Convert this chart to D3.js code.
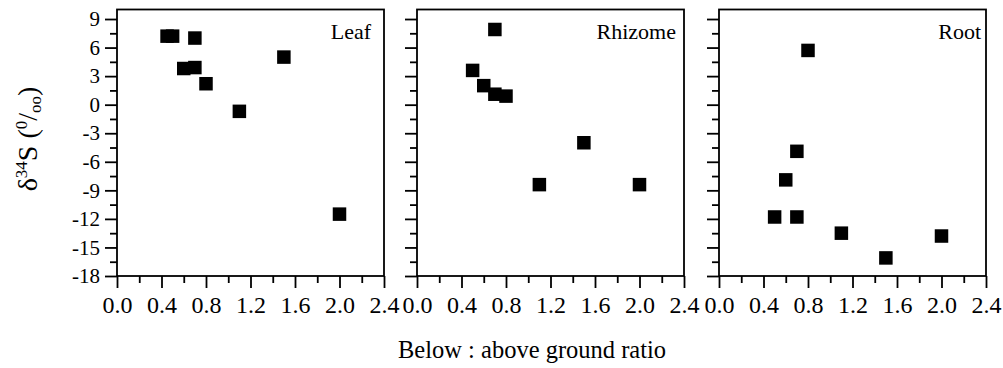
<!DOCTYPE html>
<html>
<head>
<meta charset="utf-8">
<script src="https://cdn.jsdelivr.net/npm/d3@7"></script>
<style>
  body { margin: 0; background: #fff; }
  text { font-family: "Liberation Serif", "Times New Roman", serif; fill: #000; }
  .tick text { font-family: "Liberation Serif", "Times New Roman", serif !important; }
</style>
</head>
<body>
<div class="canvas"></div>
<script>
// data
const panelNames = ['Leaf', 'Rhizome', 'Root'];

const leafRatio = [0.45, 0.5, 0.6, 0.7, 0.7, 0.8, 1.1, 1.5, 2.0];
const leafD34S = [7.2, 7.2, 3.8, 3.9, 7.0, 2.2, -0.7, 5.0, -11.5];

const rhizomeRatio = [0.5, 0.6, 0.7, 0.7, 0.8, 1.1, 1.5, 2.0];
const rhizomeD34S = [3.6, 2.0, 7.9, 1.1, 0.9, -8.4, -4.0, -8.4];

const rootRatio = [0.5, 0.6, 0.7, 0.7, 0.8, 1.1, 1.5, 2.0];
const rootD34S = [-11.8, -7.9, -4.9, -11.8, 5.7, -13.5, -16.1, -13.8];

const xTicks = [0.0, 0.4, 0.8, 1.2, 1.6, 2.0, 2.4];
const xMinorTicks = [0.2, 0.6, 1.0, 1.4, 1.8, 2.2];
const yTicks = [-18, -15, -12, -9, -6, -3, 0, 3, 6, 9];
const yMinorTicks = [-16.5, -13.5, -10.5, -7.5, -4.5, -1.5, 1.5, 4.5, 7.5];

const series = [
    {name: panelNames[0], x: leafRatio, y: leafD34S},
    {name: panelNames[1], x: rhizomeRatio, y: rhizomeD34S},
    {name: panelNames[2], x: rootRatio, y: rootD34S}
];

const svg = d3.select('.canvas')
    .append('svg')
    .attr('width', 1003)
    .attr('height', 368);

// panel layout
const panelLeft = [117, 417, 719];
const panelWidth = 267;
const plotTop = 9.5, plotBottom = 276;
const labelGap = [13, 8, 5];
const markerSize = 13.5;
const serif = '"Liberation Serif", "Times New Roman", serif';

const y = d3.scaleLinear()
    .domain([-18, 10])
    .range([plotBottom, plotTop]);

series.forEach((s, i) => {
    const x = d3.scaleLinear()
        .domain([0, 2.4])
        .range([panelLeft[i], panelLeft[i] + panelWidth]);

    const g = svg.append('g');

    // y axis (labels only on first panel)
    const yAxis = d3.axisLeft(y)
        .tickValues(yTicks)
        .tickSize(12)
        .tickPadding(5)
        .tickFormat(d => i === 0 ? String(d) : '');
    const yMinor = d3.axisLeft(y)
        .tickValues(yMinorTicks)
        .tickSize(7)
        .tickFormat('');

    const yGroup = g.append('g')
        .attr('transform', `translate(${panelLeft[i]}, 0)`)
        .call(yAxis);
    g.append('g')
        .attr('transform', `translate(${panelLeft[i]}, 0)`)
        .call(yMinor);

    yGroup.attr('font-size', 21).attr('font-family', serif);
    yGroup.selectAll('.tick text')
        .style('font-size', '21px');

    // x axis
    const xAxis = d3.axisBottom(x)
        .tickValues(xTicks)
        .tickSize(12)
        .tickPadding(8)
        .tickFormat(d3.format('.1f'));
    const xMinor = d3.axisBottom(x)
        .tickValues(xMinorTicks)
        .tickSize(7)
        .tickFormat('');

    const xGroup = g.append('g')
        .attr('transform', `translate(0, ${plotBottom})`)
        .call(xAxis);
    g.append('g')
        .attr('transform', `translate(0, ${plotBottom})`)
        .call(xMinor);

    xGroup.attr('font-size', 24).attr('font-family', serif);
    xGroup.selectAll('.tick text')
        .style('font-size', '24px');

    g.selectAll('.domain').remove();
    g.selectAll('.tick line')
        .attr('stroke', '#000')
        .attr('stroke-width', 1.8);

    // frame
    g.append('rect')
        .attr('x', panelLeft[i])
        .attr('y', plotTop)
        .attr('width', panelWidth)
        .attr('height', plotBottom - plotTop)
        .attr('fill', 'none')
        .attr('stroke', '#000')
        .attr('stroke-width', 1.8);

    // points
    const pts = s.x.map((v, j) => ({ratio: v, d34s: s.y[j]}));
    g.selectAll('rect.pt')
        .data(pts)
        .enter()
        .append('rect')
            .attr('class', 'pt')
            .attr('x', d => x(d.ratio) - markerSize / 2)
            .attr('y', d => y(d.d34s) - markerSize / 2)
            .attr('width', markerSize)
            .attr('height', markerSize)
            .attr('fill', '#000');

    // panel name
    g.append('text')
        .attr('x', panelLeft[i] + panelWidth - labelGap[i])
        .attr('y', 39)
        .attr('text-anchor', 'end')
        .style('font-size', '22px')
        .text(s.name);
});

// axis titles
const yTitle = svg.append('text')
    .attr('transform', 'translate(37, 139) rotate(-90)')
    .attr('text-anchor', 'middle')
    .style('font-size', '28px');
yTitle.append('tspan').text('δ');
yTitle.append('tspan').attr('dy', -10).style('font-size', '17px').text('34');
yTitle.append('tspan').attr('dy', 10).text('S (');
yTitle.append('tspan').attr('dy', -10).style('font-size', '17px').text('0');
yTitle.append('tspan').attr('dy', 10).text('/');
yTitle.append('tspan').attr('dy', 4).style('font-size', '17px').text('oo');
yTitle.append('tspan').attr('dy', -4).text(')');

svg.append('text')
    .attr('x', 398)
    .attr('y', 358)
    .style('font-size', '24.5px')
    .text('Below : above ground ratio');
</script>
</body>
</html>
